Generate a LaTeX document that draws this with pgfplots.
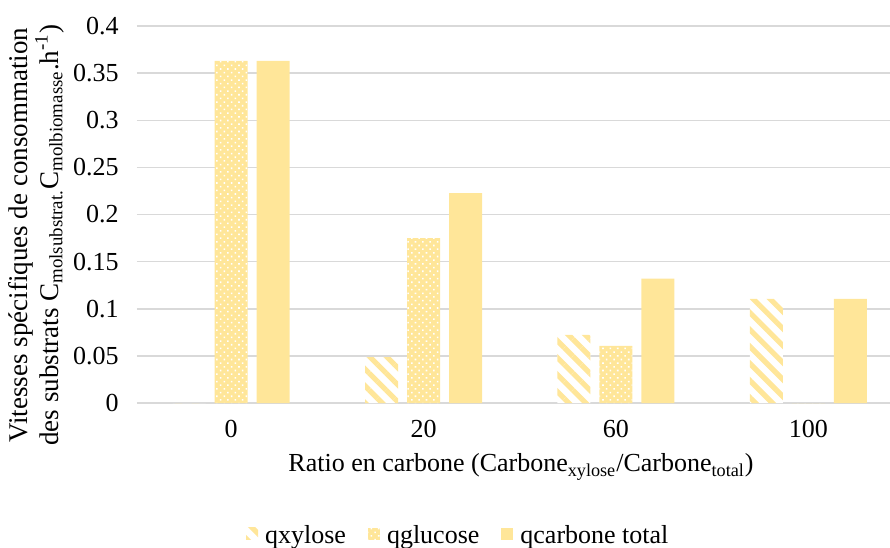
\documentclass[border=0pt]{standalone}
\usepackage{pgfplots}
\pgfplotsset{compat=1.18}
\usepackage{fontspec}
\setmainfont{Liberation Serif}
\usetikzlibrary{patterns.meta}
\definecolor{barY}{HTML}{FFE699}
\definecolor{gridG}{HTML}{D9D9D9}

\begin{document}
\begin{tikzpicture}
\begin{axis}[
  at={(0,0)}, anchor=south west,
  scale only axis, width=376.5pt, height=188.5pt,
  xmin=-0.49, xmax=3.425, ymin=0, ymax=0.4,
  ybar,
  ytick={0,0.05,0.1,0.15,0.2,0.25,0.3,0.35,0.4},
  xtick={0,1,2,3}, xticklabels={0,20,60,100},
  axis line style={draw=none},
  major tick length=0pt,
  ymajorgrids, grid style={gridG, line width=0.75pt},
  /pgf/number format/assume math mode=true,
  tick label style={font=\fontsize{13}{15}\selectfont},
  yticklabel style={/pgf/number format/fixed, /pgf/number format/precision=2, xshift=-5.7pt},
  xticklabel style={yshift=-5pt},
  xlabel={Ratio en carbone (Carbone\textsubscript{xylose}/Carbone\textsubscript{total})},
  xlabel style={at={(axis description cs:0.51,-0.17)}, anchor=center, font=\fontsize{13}{15}\selectfont},
  ylabel={Vitesses spécifiques de consommation\\des substrats C\textsubscript{molsubstrat.}C\textsubscript{molbiomasse}.h\textsuperscript{-1})},
  ylabel style={at={(axis description cs:-0.134,0.445)}, anchor=center, align=center, font=\fontsize{13.5}{14}\selectfont},
  legend style={at={(0.428,-0.352)}, anchor=center, draw=none, legend columns=3,
    font=\fontsize{13}{15}\selectfont,
    /tikz/every even column/.append style={column sep=9pt},
    /tikz/every odd column/.append style={column sep=1.5pt}},
  legend image code/.code={\fill[#1] (0pt,-2pt) rectangle (6pt,4pt);},
  bar width=16.5pt,
]
\addplot[bar shift=-21pt, draw=none, fill=white,
  postaction={pattern={Lines[angle=-45,distance=6pt,line width=2.6pt]}, pattern color=barY}]
  coordinates {(0,0) (1,0.0488) (2,0.0722) (3,0.1106)};
\addlegendentry{qxylose}
\addplot[bar shift=0pt, draw=none, fill=barY,
  postaction={pattern={Dots[angle=45,distance=2.6pt,radius=0.55pt]}, pattern color=white}]
  coordinates {(0,0.3629) (1,0.175) (2,0.0606) (3,0)};
\addlegendentry{qglucose}
\addplot[bar shift=21pt, draw=none, fill=barY]
  coordinates {(0,0.3629) (1,0.2228) (2,0.132) (3,0.1106)};
\addlegendentry{qcarbone total}
\end{axis}
\pgfresetboundingbox
\path[use as bounding box] (-68.5pt,-72pt) rectangle (376.5pt,201.5pt);
\end{tikzpicture}
\end{document}
